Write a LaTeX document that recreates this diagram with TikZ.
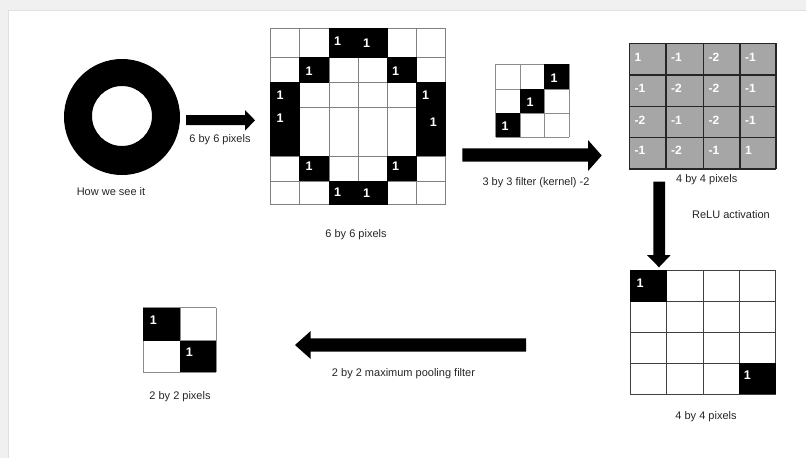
\documentclass[tikz,border=0pt]{standalone}
\usepackage{fontspec}
\setmainfont{Liberation Sans}
\begin{document}
\begin{tikzpicture}[x=1pt,y=-1pt,
  lbl/.style={font=\fontsize{11}{12}\selectfont, text=black!85, inner sep=0pt},
  one/.style={font=\bfseries\fontsize{12.5}{13}\selectfont, text=white, inner sep=0pt},
  gv/.style={font=\bfseries\fontsize{12}{13}\selectfont, text=white, inner sep=0pt, anchor=west},
  blockarrow/.style={fill=black, draw=none},
  bigpx/.style={fill=black}]
\useasboundingbox (0,0) rectangle (806,458);
% page background
\fill[white] (0,0) rectangle (806,458);
\fill[black!6] (0,0) rectangle (806,10);
\fill[black!6] (0,0) rectangle (8,458);
\draw[black!12, line width=1pt] (8,458) -- (8,10.5) -- (806,10.5);

% ring
\fill[black, even odd rule] (122,117) circle[radius=58] (122,116) circle[radius=30];
\node[lbl] (seeit) at (111,191.5) {How we see it};

% arrow 1
\fill[blockarrow] (186,115) -- (245,115) -- (245,110) -- (255,120.3) -- (245,130.7) -- (245,125) -- (186,125) -- cycle;
\node[lbl] (a1lbl) at (220,140) {6 by 6 pixels};

% 6x6 grid
\foreach \x in {270,299.3,329,358,387.3,416.7,445.7}
  \draw[black!50, line width=1pt] (\x,28.3) -- (\x,204.3);
\foreach \y in {28.3,57.7,82.7,107.7,156,181,204.3}
  \draw[black!50, line width=1pt] (270,\y) -- (445.7,\y);
\foreach \a/\b/\c/\d in {329/28.3/387.3/57.7, 299.3/57.7/329/82.7, 387.3/57.7/416.7/82.7,
   270/82.7/299.3/156, 416.7/82.7/445.7/156, 299.3/156/329/181, 387.3/156/416.7/181,
   329/181/387.3/204.3}
  \fill[bigpx] (\a-0.4,\b-0.4) rectangle (\c+0.4,\d+0.4);
\foreach \px/\py [count=\k] in {337.7/40.7, 366.7/43.3, 309/70.7, 395.7/70.7, 280/95, 425.7/95,
   280/118.3, 433.3/121.7, 309/165.7, 395.7/165.7, 337.7/192.3, 366.7/193.3}
  \node[one] (six\k) at (\px,\py) {1};
\node[lbl] (sixlbl) at (356,235) {6 by 6 pixels};

% 3x3 filter
\foreach \x in {495.7,520,544.3,569}
  \draw[black!45, line width=0.9pt] (\x,64.3) -- (\x,137.3);
\foreach \y in {64.3,89.3,113.3,137.3}
  \draw[black!45, line width=0.9pt] (495.7,\y) -- (569,\y);
\fill[bigpx] (544.3,64.3) rectangle (569,89.3);
\fill[bigpx] (520,89.3) rectangle (544.3,113.3);
\fill[bigpx] (495.7,113.3) rectangle (520,137.3);
\node[one] (f1) at (554,77.7) {1};
\node[one] (f2) at (530,101.7) {1};
\node[one] (f3) at (505,125.7) {1};

% arrow 2
\fill[blockarrow] (462.3,148.3) -- (588,148.3) -- (588,140) -- (601.7,155.5) -- (588,171) -- (588,161.7) -- (462.3,161.7) -- cycle;
\node[lbl] (a2lbl) at (536,183) {3 by 3 filter (kernel) -2};

% grey 4x4
\fill[black!35] (629.3,43.3) rectangle (776,169);
\foreach \x in {629.3,666,703.3,740,776}
  \draw[black!85, line width=1.1pt] (\x,43.3) -- (\x,169);
\foreach \y in {43.3,75,106.7,137.7,169}
  \draw[black!85, line width=1.1pt] (629.3,\y) -- (776,\y);
\foreach \v [count=\k] in {1,-1,-2,-1, -1,-2,-2,-1, -2,-1,-2,-1, -1,-2,-1,1}{
  \pgfmathtruncatemacro{\col}{mod(\k-1,4)}
  \pgfmathtruncatemacro{\row}{div(\k-1,4)}
  \pgfmathsetmacro{\gx}{{629.3,666,703.3,740}[\col]+5}
  \pgfmathsetmacro{\gy}{{57.7,88.3,120,150.3}[\row]}
  \node[gv] (g\k) at (\gx,\gy) {\v};
}
\node[lbl] (g4lbl) at (706.7,179.5) {4 by 4 pixels};

% arrow 3
\fill[blockarrow] (653.3,181.7) -- (665,181.7) -- (665,255) -- (670.7,255) -- (659,267.3) -- (647,255) -- (653.3,255) -- cycle;
\node[lbl] (a3lbl) at (731,215) {ReLU activation};

% bottom 4x4
\foreach \x in {630,666.7,703.3,739,775.7}
  \draw[black!75, line width=1pt] (\x,270) -- (\x,394.3);
\foreach \y in {270,301.7,332.7,363.3,394.3}
  \draw[black!75, line width=1pt] (630,\y) -- (775.7,\y);
\fill[bigpx] (630,270) rectangle (666.7,301.7);
\fill[bigpx] (739,363.3) rectangle (775.7,394.3);
\node[one] (b1) at (640,282.7) {1};
\node[one] (b2) at (747.3,375) {1};
\node[lbl] (b4lbl) at (706,416.5) {4 by 4 pixels};

% arrow 4
\fill[blockarrow] (526,338.3) -- (310.7,338.3) -- (310.7,331) -- (295,345) -- (310.7,359) -- (310.7,351.7) -- (526,351.7) -- cycle;
\node[lbl] (a4lbl) at (403.5,373.5) {2 by 2 maximum pooling filter};

% 2x2
\foreach \x in {143.3,180,216}
  \draw[black!45, line width=0.9pt] (\x,307.7) -- (\x,372.3);
\foreach \y in {307.7,340.7,372.3}
  \draw[black!45, line width=0.9pt] (143.3,\y) -- (216,\y);
\fill[bigpx] (143.3,307.7) rectangle (180,340.7);
\fill[bigpx] (180,340.7) rectangle (216,372.3);
\node[one] (p1) at (153.3,320) {1};
\node[one] (p2) at (189.3,352.3) {1};
\node[lbl] (p2lbl) at (180,396.7) {2 by 2 pixels};
\end{tikzpicture}
\end{document}
